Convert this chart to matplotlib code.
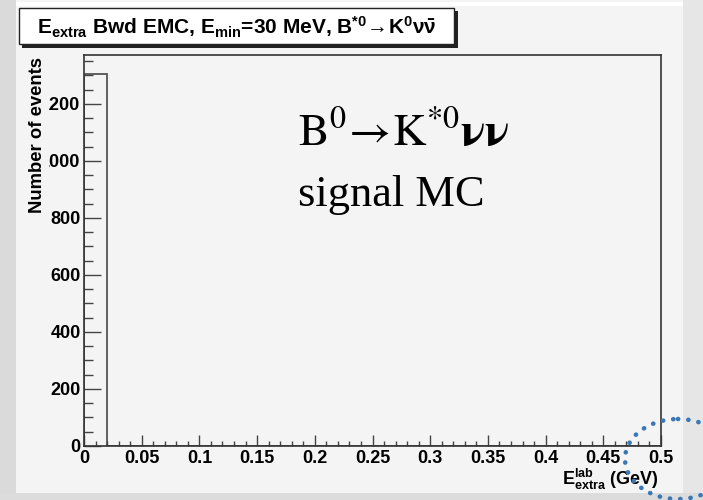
import numpy as np
import matplotlib
matplotlib.use("Agg")
matplotlib.rcParams.update({
    'font.family': 'Liberation Sans',
    'mathtext.fontset': 'custom',
    'mathtext.rm': 'Liberation Sans:bold',
    'mathtext.bf': 'Liberation Sans:bold',
    'mathtext.it': 'Liberation Sans:bold',
    'mathtext.default': 'rm',
})
import matplotlib.pyplot as plt
from matplotlib.patches import Rectangle, Ellipse
from matplotlib.ticker import MultipleLocator, FormatStrFormatter

# E_extra (Bwd EMC) histogram, signal MC: all events land in the first bin
bin_edges = [0.00, 0.02, 0.04, 0.06, 0.08, 0.10, 0.12, 0.14, 0.16, 0.18,
             0.20, 0.22, 0.24, 0.26, 0.28, 0.30, 0.32, 0.34, 0.36, 0.38,
             0.40, 0.42, 0.44, 0.46, 0.48, 0.50]
counts = [1306, 0, 0, 0, 0, 0, 0, 0, 0, 0, 0, 0, 0,
          0, 0, 0, 0, 0, 0, 0, 0, 0, 0, 0, 0]
x_major = [0, 0.05, 0.1, 0.15, 0.2, 0.25, 0.3, 0.35, 0.4, 0.45, 0.5]
y_major = [0, 200, 400, 600, 800, 1000, 1200]

CANVAS = '#f4f4f4'
W, H = 703, 500

fig = plt.figure(figsize=(W / 100, H / 100), dpi=100, facecolor='#e6e6e6')

# slide backdrop, drawn in pixel coordinates
bg = fig.add_axes([0, 0, 1, 1], zorder=0)
bg.set_xlim(0, W)
bg.set_ylim(H, 0)
bg.axis('off')
bg.add_patch(Rectangle((0, 0), 16, H, color='#dadada', lw=0))
bg.add_patch(Rectangle((0, 493), W, 7, color='#dcdcdc', lw=0))
bg.add_patch(Rectangle((16, 0), 667, 493, color=CANVAS, lw=0))
bg.add_patch(Rectangle((16, 2), 667, 4, color='white', lw=0))

ax = fig.add_axes([84 / W, 54 / H, 577 / W, 391 / H], zorder=1)
ax.set_facecolor(CANVAS)
ax.stairs(counts, bin_edges, color='#555555', lw=1.3)

ax.set_xlim(0, 0.5)
ax.set_ylim(0, max(counts) * 1.05)
ax.xaxis.set_minor_locator(MultipleLocator(0.01))
ax.xaxis.set_major_formatter(FormatStrFormatter('%g'))
ax.set_xticks(x_major)
ax.set_yticks(y_major)
ax.yaxis.set_minor_locator(MultipleLocator(50))

for s in ax.spines.values():
    s.set_color('#333333')
    s.set_linewidth(1.2)
ax.tick_params(axis='both', which='both', direction='in', colors='#444444',
               labelcolor='black', labelsize=13, top=False, right=False)
ax.tick_params(axis='x', which='major', length=7.7, width=1.0, pad=3)
ax.tick_params(axis='x', which='minor', length=3.4, width=1.0)
ax.tick_params(axis='y', which='major', length=12, width=1.0, pad=2.5)
ax.tick_params(axis='y', which='minor', length=6.5, width=1.0)
for lbl in ax.get_xticklabels() + ax.get_yticklabels():
    lbl.set_fontweight('bold')

ax.set_ylabel('Number of events', fontsize=13.3, fontweight='bold', loc='top',
              bbox=dict(facecolor=CANVAS, edgecolor='none', pad=2.5))
ax.yaxis.set_label_coords(-0.066, 0.996)
ax.set_xlabel(r'$\mathrm{E^{lab}_{extra}}$ (GeV)', fontsize=13,
              fontweight='bold', loc='right')
ax.xaxis.set_label_coords(0.9965, -0.054)

# physics annotation
ax.text(0.371, 0.765, r'$\mathrm{B^{0}\!\rightarrow\!K^{*0}}\mathbf{\nu\nu}$',
        transform=ax.transAxes, fontsize=33, math_fontfamily='stix',
        ha='left', va='baseline')
ax.text(0.371, 0.614, 'signal MC', transform=ax.transAxes, fontsize=32,
        fontfamily='Liberation Serif', ha='left', va='baseline')

# title pave with drop shadow, and the dotted circle decoration
top = fig.add_axes([0, 0, 1, 1], zorder=3)
top.set_xlim(0, W)
top.set_ylim(H, 0)
top.axis('off')
top.patch.set_alpha(0)
top.add_patch(Rectangle((22, 11), 436, 37, facecolor='#222222', lw=0))
top.add_patch(Rectangle((19, 8), 435, 36, facecolor='white',
                        edgecolor='#222222', lw=1.0))
top.text(237, 27, r'$\mathrm{E_{extra}}$ Bwd EMC, $\mathrm{E_{min}}$=30 MeV, '
         r'$\mathrm{B^{*0}\!\rightarrow\!K^{0}\nu\bar{\nu}}$',
         fontsize=15, fontweight='bold', ha='center', va='center')
top.add_patch(Ellipse((678, 459), 106, 80, fill=False, edgecolor='#3a78b5',
                      lw=3.3, linestyle=(0, (0.05, 2.2)), capstyle='round'))

fig.savefig('out.png', dpi=100, facecolor=fig.get_facecolor())
